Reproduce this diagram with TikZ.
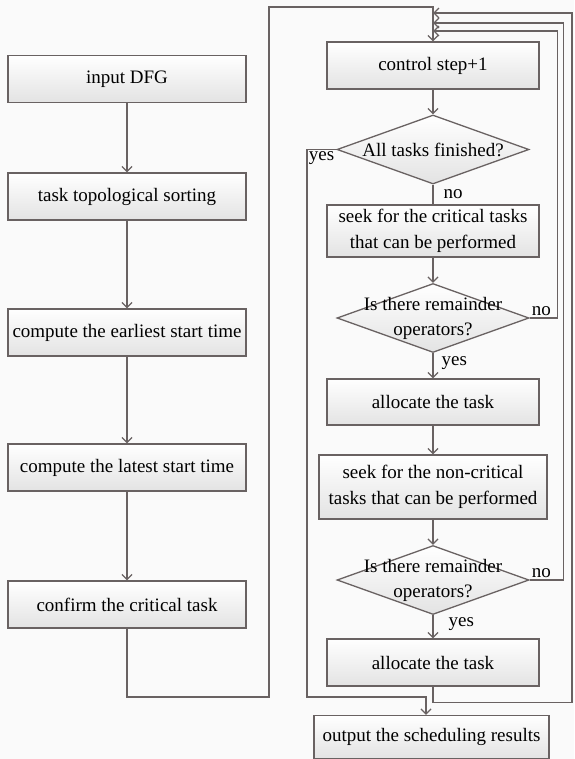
\documentclass[tikz,border=0pt]{standalone}
\usepackage{fontspec}
\setmainfont{Liberation Serif}
\usetikzlibrary{arrows.meta,shapes.geometric}
\definecolor{linegray}{RGB}{105,98,98}

\begin{document}
\begin{tikzpicture}[x=1pt, y=-1pt, >={Straight Barb[length=5pt,width=10pt]},
    line/.style={draw=linegray, line width=1.3pt},
    block/.style={rectangle, draw=linegray, line width=1.3pt, top color=white, bottom color=gray!22, minimum width=212, minimum height=47, inner sep=0, align=center, font=\fontsize{19}{26}\selectfont},
    leftblock/.style={block, minimum width=238},
    decision/.style={diamond, draw=linegray, line width=1.3pt, top color=white, bottom color=gray!22, minimum width=192, minimum height=69, inner sep=0},
    dtext/.style={align=center, inner sep=0, font=\fontsize{19}{25}\selectfont},
    lbl/.style={inner sep=2pt, font=\fontsize{19}{22}\selectfont}]
    \fill[gray!4] (0,0) rectangle (574,759);
    \useasboundingbox (0,0) rectangle (574,759);

    % Left column
    \node[leftblock] (in) at (127,79) {input DFG};
    \node[leftblock] (topo) at (127,196.5) {task topological sorting};
    \node[leftblock] (early) at (127,332.5) {compute the earliest start time};
    \node[leftblock] (late) at (127,467.5) {compute the latest start time};
    \node[leftblock] (conf) at (127,604.5) {confirm the critical task};

    % Right column
    \node[block] (ctrl) at (433,65.5) {control step+1};
    \node[decision] (d1) at (433,149.5) {};
    \node[dtext] (d1t) at (d1) {All tasks finished?};
    \node[block, minimum height=52] (seek1) at (433,231) {seek for the critical tasks\\that can be performed};
    \node[decision] (d2) at (433,318) {};
    \node[dtext] (d2t) at (d2) {Is there remainder\\operators?};
    \node[block, minimum height=46] (alloc1) at (433,402) {allocate the task};
    \node[block, minimum width=228, minimum height=64] (seek2) at (433,487) {seek for the non-critical\\tasks that can be performed};
    \node[decision] (d3) at (433,580) {};
    \node[dtext] (d3t) at (d3) {Is there remainder\\operators?};
    \node[block] (alloc2) at (433,662.5) {allocate the task};
    \node[block, minimum width=235, minimum height=43] (out) at (431.5,737) {output the scheduling results};

    % Junction points
    \coordinate (lbot) at (269,697);
    \coordinate (ltop) at (269,7);
    \coordinate (ybot) at (307,697);
    \coordinate (m1) at (433,13);
    \coordinate (m2) at (433,23);
    \coordinate (m3) at (433,31);

    % Left flow
    \draw[line, ->] (in) -- (topo);
    \draw[line, ->] (topo) -- (early);
    \draw[line, ->] (early) -- (late);
    \draw[line, ->] (late) -- (conf);
    \draw[line, ->] (conf.south) |- (lbot) -- (ltop) -| (ctrl.north);

    % Right flow
    \draw[line, ->] (ctrl) -- (d1);
    \draw[line] (d1.south) -- node[lbl, right, xshift=8pt] (n1) {no} (seek1.north);
    \draw[line, ->] (seek1) -- (d2);
    \draw[line, ->] (d2.south) -- node[lbl, right, xshift=6pt, yshift=3pt] (y2) {yes} (alloc1.north);
    \draw[line, ->] (alloc1) -- (seek2);
    \draw[line, ->] (seek2) -- (d3);
    \draw[line, ->] (d3.south) -- node[lbl, right, xshift=13pt, yshift=3pt] (y3) {yes} (alloc2.north);
    \node[lbl, below left] (y1) at (d1.west) {yes};
    \node[lbl, above right] (n2) at (d2.east) {no};
    \node[lbl, above right] (n3) at (d3.east) {no};

    % Feedback loops
    \draw[line, ->] (d1.west) -| (ybot) -| ([xshift=-5.5pt]out.north);
    \draw[line, ->] (d2.east) -- ++(28,0) |- (m3);
    \draw[line, ->] (d3.east) -- ++(34,0) |- (m2);
    \draw[line, ->] (alloc2.south) -- ++(0,16) -- ++(139,0) |- (m1);
\end{tikzpicture}
\end{document}
